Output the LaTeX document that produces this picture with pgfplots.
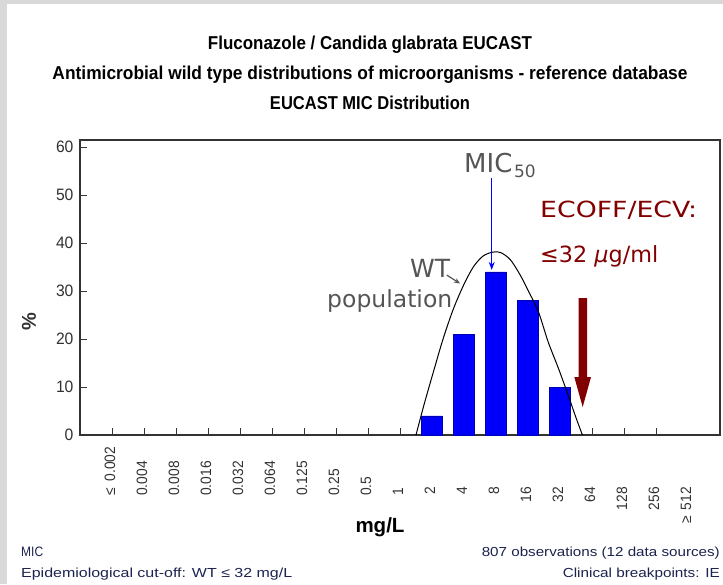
\documentclass[border=0pt]{standalone}
\usepackage{fontspec}
\usepackage{graphicx}
\usepackage{pgfplots}
\pgfplotsset{compat=1.18}
\usetikzlibrary{arrows.meta}

\setmainfont{Liberation Sans}
\newfontfamily\narrowsans[FakeStretch=0.92]{Liberation Sans}
\newfontfamily\ticksans[FakeStretch=0.95]{Liberation Sans}
\newfontfamily\notefont{DejaVu Sans}

\definecolor{sidebar}{RGB}{217,217,217}
\definecolor{footnavy}{RGB}{28,36,78}
\definecolor{notegray}{RGB}{85,85,85}
\definecolor{ecoffred}{RGB}{130,0,0}
\definecolor{barblue}{RGB}{0,0,250}
\definecolor{labelgray}{RGB}{50,50,50}

% rotated MIC labels under the x axis
\newcommand{\miclab}[3]{%
  \node[rotate=90, anchor=#3, inner sep=0pt, text=labelgray,
        font=\narrowsans\fontsize{15}{15}\selectfont] at (#1) {#2};}

\begin{document}
\begin{tikzpicture}
\path[use as bounding box] (0pt,0pt) rectangle (723pt,584pt);
\fill[white] (0pt,0pt) rectangle (723pt,584pt);
\fill[sidebar] (0pt,0pt) rectangle (7pt,584pt);
\fill[sidebar] (0pt,580pt) rectangle (723pt,584pt);

% titles
\node[anchor=base, inner sep=0pt] at (370pt,534pt)
  {\resizebox{324pt}{13.5pt}{\bfseries Fluconazole / Candida glabrata EUCAST}};
\node[anchor=base, inner sep=0pt] at (370pt,504pt)
  {\resizebox{635pt}{13.5pt}{\bfseries Antimicrobial wild type distributions of microorganisms - reference database}};
\node[anchor=base, inner sep=0pt] at (370pt,474pt)
  {\resizebox{200pt}{13.5pt}{\bfseries EUCAST MIC Distribution}};

\begin{axis}[
  at={(80pt,149pt)}, anchor=south west,
  scale only axis, width=640pt, height=295pt,
  xmin=-1, xmax=19, ymin=0, ymax=61.46,
  xtick={0,...,17}, xticklabels={},
  ytick={0,10,...,60},
  tick pos=left, tick align=inside,
  major tick length=7pt,
  axis line style={black!80, line width=1.2pt},
  tick style={black!80, line width=1pt},
  yticklabel style={font=\ticksans\fontsize{16.5}{16.5}\selectfont, text=labelgray, xshift=-3pt},
  /pgf/number format/assume math mode=true,
  clip=false,
]
% share of isolates per MIC class (%)
\addplot[ybar, bar width=20.8pt, fill=barblue, draw=blue!70!black, line width=0.4pt]
  coordinates {(10,4) (11,21) (12,34) (13,28) (14,10)};

% wild-type population envelope
\addplot[black, line width=1pt, smooth, tension=0.5] coordinates {
  (9.5,0) (9.75,6.3) (10.05,13.3) (10.35,20.1) (10.67,26.3) (11.0,31.4)
  (11.3,35.1) (11.6,37.3) (11.9,38.1) (12.15,38.0) (12.45,36.5) (12.75,33.4)
  (13.05,29.5) (13.33,25.6) (13.63,19.4) (13.95,13.9) (14.25,8.4) (14.5,3.6)
  (14.7,0)};

% MIC50 marker
\draw[blue, line width=1pt, -{Stealth[length=8pt,width=6pt]}]
  (axis cs:11.866,53.54) -- (axis cs:11.866,34.4);
\node[anchor=base west, inner sep=0pt, text=notegray,
      font=\notefont\fontsize{26}{26}\selectfont] at (axis cs:11.0,54.79) {MIC};
\node[anchor=base west, inner sep=0pt, text=notegray,
      font=\notefont\fontsize{17}{17}\selectfont] at (axis cs:12.56,53.75) {50};

% ECOFF
\node[anchor=base west, inner sep=0pt, text=ecoffred] at (axis cs:13.375,45.35)
  {\resizebox{157pt}{16.5pt}{\notefont ECOFF/ECV:}};
\node[anchor=base west, inner sep=0pt, text=ecoffred] at (axis cs:13.375,36.04)
  {\resizebox{118pt}{!}{\notefont ≤32 \textit{μ}g/ml}};
\fill[ecoffred] (axis cs:14.578,28.54) -- (axis cs:14.844,28.54)
  -- (axis cs:14.844,12.08) -- (axis cs:14.969,12.08) -- (axis cs:14.709,5.83)
  -- (axis cs:14.447,12.08) -- (axis cs:14.578,12.08) -- cycle;

% wild-type label
\node[anchor=base west, inner sep=0pt, text=notegray,
      font=\notefont\fontsize{25}{25}\selectfont] at (axis cs:9.3125,32.85) {WT};
\node[anchor=base west, inner sep=0pt, text=notegray] at (axis cs:6.72,26.46)
  {\resizebox{125pt}{!}{\notefont population}};
\draw[notegray, line width=1.2pt, -{Stealth[length=6pt,width=5pt]}]
  (axis cs:10.46,33.33) -- (axis cs:10.875,31.56);
\end{axis}

% MIC class labels
\miclab{110pt,88pt}{≤\hspace{7pt}0.002}{west}
\miclab{142pt,88pt}{0.004}{west}
\miclab{174pt,88pt}{0.008}{west}
\miclab{206pt,88pt}{0.016}{west}
\miclab{238pt,88pt}{0.032}{west}
\miclab{270pt,88pt}{0.064}{west}
\miclab{302pt,88pt}{0.125}{west}
\miclab{334pt,88pt}{0.25}{west}
\miclab{366pt,88pt}{0.5}{west}
\miclab{398pt,88pt}{1}{west}
\miclab{430pt,97pt}{2}{east}
\miclab{462pt,97pt}{4}{east}
\miclab{494pt,97pt}{8}{east}
\miclab{526pt,97pt}{16}{east}
\miclab{558pt,97pt}{32}{east}
\miclab{590pt,97pt}{64}{east}
\miclab{622pt,97pt}{128}{east}
\miclab{654pt,97pt}{256}{east}
\miclab{686pt,97pt}{≥\hspace{6pt}512}{east}

% axis titles
\node[inner sep=0pt] at (380pt,57pt) {\resizebox{49pt}{!}{\bfseries mg/L}};
\node[rotate=90, inner sep=0pt, font=\bfseries\fontsize{20}{20}\selectfont, text=labelgray]
  at (29pt,262pt) {\%};

% footer
\node[anchor=base west, inner sep=0pt, text=footnavy] at (21pt,27.5pt)
  {\resizebox{22pt}{9.5pt}{MIC}};
\node[anchor=base west, inner sep=0pt, text=footnavy] at (21pt,6.5pt)
  {\resizebox{271pt}{9.5pt}{Epidemiological cut-off: WT ≤ 32 mg/L}};
\node[anchor=base east, inner sep=0pt, text=footnavy] at (720pt,27.5pt)
  {\resizebox{238pt}{9.5pt}{807 observations (12 data sources)}};
\node[anchor=base east, inner sep=0pt, text=footnavy] at (720pt,6.5pt)
  {\resizebox{157pt}{9.5pt}{Clinical breakpoints: IE}};
\end{tikzpicture}
\end{document}
